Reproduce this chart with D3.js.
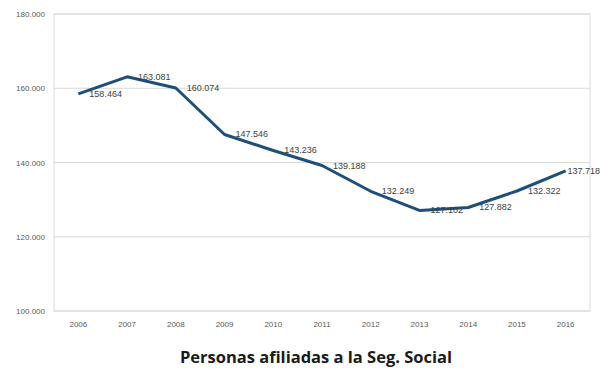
<!DOCTYPE html>
<html><head><meta charset="utf-8">
<script src="https://cdn.jsdelivr.net/npm/d3@7"></script>
<style>body{margin:0;background:#fff}svg{display:block}</style>
</head><body>
<svg id="c" width="601" height="369"></svg>
<script>
const years = ["2006","2007","2008","2009","2010","2011","2012","2013","2014","2015","2016"];
const afiliados = [158464,163081,160074,147546,143236,139188,132249,127102,127882,132322,137718];
const yTicks = [100000,120000,140000,160000,180000];
const title = "Personas afiliadas a la Seg. Social";

const svg = d3.select("#c");
const m = {l:54, r:590, t:14, b:311};
const x = d3.scaleBand().domain(years).range([m.l, m.r]);
const y = d3.scaleLinear().domain([100000,180000]).range([m.b, m.t]);
const fmt = v => d3.format(",")(v).replace(/,/g, ".");

svg.append("g").selectAll("line").data(yTicks).join("line")
  .attr("x1", m.l).attr("x2", m.r)
  .attr("y1", d => y(d)).attr("y2", d => y(d))
  .attr("stroke", "#d9d9d9").attr("stroke-width", 1);
svg.append("rect").attr("x", m.l).attr("y", m.t).attr("width", m.r-m.l).attr("height", m.b-m.t)
  .attr("fill", "none").attr("stroke", "#d9d9d9");

const ya = svg.append("g").attr("transform", `translate(${m.l},0)`)
  .call(d3.axisLeft(y).tickValues(yTicks).tickFormat(fmt).tickSize(0).tickPadding(9));
ya.select(".domain").remove();
ya.selectAll("text").attr("font-family","Liberation Sans, Arial, sans-serif").attr("font-size",8).attr("fill","#595959");

const xa = svg.append("g").attr("transform", `translate(0,${m.b})`)
  .call(d3.axisBottom(x).tickSize(0).tickPadding(10));
xa.select(".domain").remove();
xa.selectAll("text").attr("font-family","Liberation Sans, Arial, sans-serif").attr("font-size",8).attr("fill","#595959");

const pts = years.map((yr,i) => ({yr, v: afiliados[i]}));
const line = d3.line().x(d => x(d.yr) + x.bandwidth()/2).y(d => y(d.v));
svg.append("path").datum(pts).attr("d", line)
  .attr("fill","none").attr("stroke","#1f4e79").attr("stroke-width",3).attr("stroke-linejoin","round");

svg.append("g").selectAll("text").data(pts).join("text")
  .attr("x", d => x(d.yr) + x.bandwidth()/2 + 11)
  .attr("y", d => y(d.v) + 3)
  .attr("font-family","Liberation Sans, Arial, sans-serif").attr("font-size",9).attr("fill","#404040")
  .text(d => fmt(d.v))
  .each(function(){
    const w = this.getComputedTextLength();
    const xx = +this.getAttribute("x");
    if (xx + w > 600) this.setAttribute("x", 600 - w);
  });

svg.append("text").attr("x", 316).attr("y", 363).attr("text-anchor","middle")
  .attr("font-family","Open Sans, sans-serif").attr("font-weight","bold").attr("font-size",16.5).attr("fill","#1a1a1a")
  .text(title);
</script>
</body></html>
